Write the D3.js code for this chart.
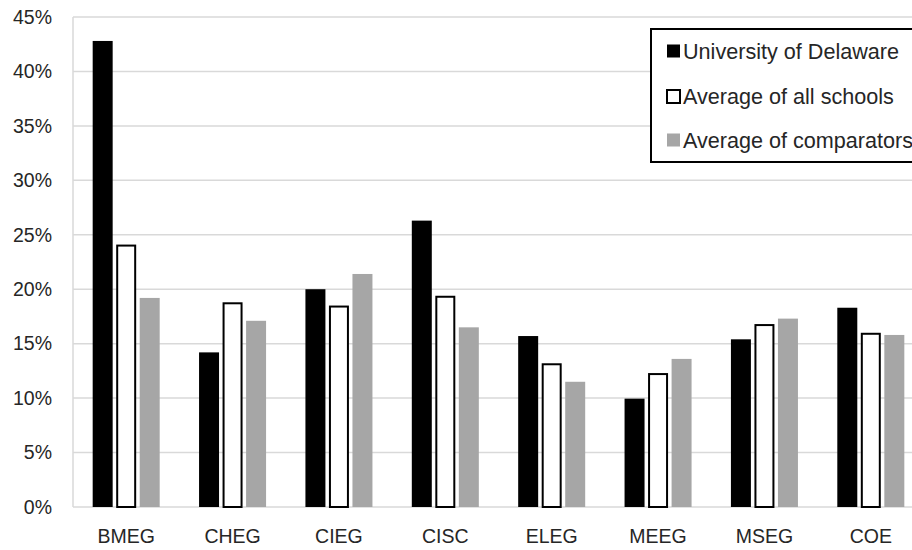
<!DOCTYPE html>
<html><head><meta charset="utf-8">
<script src="https://cdn.jsdelivr.net/npm/d3@7"></script>
<style>body{margin:0;background:#fff}svg{display:block}text{font-family:"Liberation Sans",Arial,sans-serif;fill:#262626}</style>
</head><body><svg id="c" width="912" height="550"></svg>
<script>
const categories = ["BMEG","CHEG","CIEG","CISC","ELEG","MEEG","MSEG","COE"];
const seriesNames = ["University of Delaware","Average of all schools","Average of comparators"];
const univDelaware = [42.8,14.2,20.0,26.3,15.7,9.95,15.4,18.3];
const avgAllSchools = [24.1,18.8,18.5,19.4,13.2,12.3,16.8,16.0];
const avgComparators = [19.2,17.1,21.4,16.5,11.5,13.6,17.3,15.8];
const yTicks = [0,5,10,15,20,25,30,35,40,45];

const series = [univDelaware, avgAllSchools, avgComparators];
const fills = ["#000000","#ffffff","#a6a6a6"];
const strokes = ["none","#000000","none"];

const svg = d3.select("#c");
const pLeft = 73, pRight = 924, pTop = 17, pBottom = 507;

const y = d3.scaleLinear().domain([0,45]).range([pBottom, pTop]);
const x0 = d3.scaleBand().domain(categories).range([pLeft, pRight]).paddingInner(0.37).paddingOuter(0.185);
const x1 = d3.scaleBand().domain([0,1,2]).range([0, x0.bandwidth()]).paddingInner(0.15).paddingOuter(0);

// gridlines
svg.append("g").selectAll("line").data(yTicks).join("line")
  .attr("x1", pLeft).attr("x2", 912)
  .attr("y1", d => y(d)).attr("y2", d => y(d))
  .attr("stroke", "#d9d9d9").attr("stroke-width", 1.5);
// left axis line
svg.append("line").attr("x1", pLeft).attr("x2", pLeft).attr("y1", y(45)).attr("y2", y(0))
  .attr("stroke", "#d9d9d9").attr("stroke-width", 1.5);

// y labels
const yAxis = d3.axisLeft(y).tickValues(yTicks).tickFormat(d => d + "%").tickSize(0).tickPadding(21);
const ya = svg.append("g").attr("transform", `translate(${pLeft},0)`).call(yAxis);
ya.select(".domain").remove();
ya.selectAll("text").attr("font-size", 19.5).attr("font-family", '"Liberation Sans",Arial,sans-serif').attr("fill", "#262626");

// bars
const groups = svg.append("g").selectAll("g").data(categories).join("g")
  .attr("transform", d => `translate(${x0(d)},0)`);
groups.selectAll("rect").data((d, i) => series.map((s, k) => ({k, v: s[i]}))).join("rect")
  .attr("x", d => x1(d.k) + (d.k === 1 ? 1 : 0))
  .attr("width", d => x1.bandwidth() - (d.k === 1 ? 2 : 0))
  .attr("y", d => y(d.v) + (d.k === 1 ? 1 : 0))
  .attr("height", d => y(0) - y(d.v) - (d.k === 1 ? 1 : 0))
  .attr("fill", d => fills[d.k])
  .attr("stroke", d => strokes[d.k])
  .attr("stroke-width", 2);

// x labels
const xAxis = d3.axisBottom(x0).tickSize(0).tickPadding(22);
const xa = svg.append("g").attr("transform", `translate(0,${pBottom})`).call(xAxis);
xa.select(".domain").remove();
xa.selectAll("text").attr("font-size", 19.5).attr("font-family", '"Liberation Sans",Arial,sans-serif').attr("fill", "#262626");

// legend
const lg = svg.append("g");
lg.append("rect").attr("x", 651).attr("y", 29).attr("width", 300).attr("height", 133)
  .attr("fill", "#fff").attr("stroke", "#000").attr("stroke-width", 2);
const rowY = [51, 96.5, 140];
seriesNames.forEach((n, k) => {
  lg.append("rect").attr("x", 667).attr("y", rowY[k] - 6.5).attr("width", 13).attr("height", 13)
    .attr("fill", fills[k]).attr("stroke", strokes[k]).attr("stroke-width", 2);
  lg.append("text").attr("x", 683).attr("y", rowY[k]).attr("dy", "0.36em")
    .attr("font-size", 21.6).text(n);
});
</script></body></html>
